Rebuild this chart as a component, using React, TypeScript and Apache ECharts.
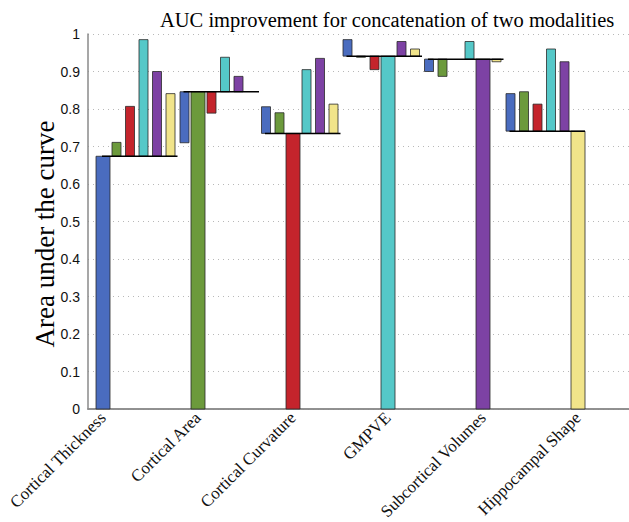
import React, { useEffect, useRef } from "react";
import * as echarts from "echarts";

// Modalities (categories, also the partner modality of each coloured bar)
const categories = [
  "Cortical Thickness",
  "Cortical Area",
  "Cortical Curvature",
  "GMPVE",
  "Subcortical Volumes",
  "Hippocampal Shape",
];

// AUC of the concatenation of row modality with each partner modality (diagonal = single modality)
const corticalThicknessAUC = [0.674, 0.711, 0.807, 0.985, 0.9, 0.841];
const corticalAreaAUC = [0.71, 0.846, 0.789, 0.938, 0.887, 0.846];
const corticalCurvatureAUC = [0.806, 0.79, 0.735, 0.905, 0.935, 0.813];
const gmpveAUC = [0.985, 0.938, 0.905, 0.941, 0.98, 0.96];
const subcorticalVolumesAUC = [0.9, 0.887, 0.933, 0.98, 0.933, 0.926];
const hippocampalShapeAUC = [0.841, 0.846, 0.813, 0.96, 0.926, 0.741];

const yTicks = [0, 0.1, 0.2, 0.3, 0.4, 0.5, 0.6, 0.7, 0.8, 0.9, 1];

const colors = ["#4a6cbf", "#6c9a3c", "#c4242c", "#55c8c8", "#7d42a4", "#f1e48a"];

export default function App() {
  const ref = useRef<HTMLDivElement>(null);

  useEffect(() => {
    document.body.style.margin = "0";
    if (!ref.current) return;
    const chart = echarts.init(ref.current, undefined, { renderer: "svg" });

    const rows = [
      corticalThicknessAUC,
      corticalAreaAUC,
      corticalCurvatureAUC,
      gmpveAUC,
      subcorticalVolumesAUC,
      hippocampalShapeAUC,
    ];
    const baselines = rows.map((r, g) => r[g]);
    const slotStep = 13.5 / 95; // in axis units
    const slotPos = (g: number, s: number) => g + 1 + (s - g) * slotStep;

    const barSeries = colors.map((color, s) => ({
      type: "custom",
      name: categories[s],
      xAxisIndex: 0,
      yAxisIndex: 0,
      z: 3,
      encode: { x: 0, y: [1, 2] },
      data: rows.map((r, g) => [slotPos(g, s), baselines[g], r[s], g === s ? 1 : 0]),
      renderItem: (params: any, api: any) => {
        const u = api.value(0);
        const base = api.value(1);
        const v = api.value(2);
        const self = api.value(3) === 1;
        if (!self && Math.abs(v - base) < 1e-6) return null;
        const w = self ? 14 : 9;
        const p0 = api.coord([u, self ? 0 : base]);
        const p1 = api.coord([u, v]);
        const top = Math.min(p0[1], p1[1]);
        const h = Math.abs(p0[1] - p1[1]);
        return {
          type: "rect",
          shape: { x: p0[0] - w / 2, y: top, width: w, height: h },
          style: { fill: color, stroke: "#2a2a2a", lineWidth: 0.8 },
        };
      },
    }));

    const lineSeries = {
      type: "custom",
      name: "baseline",
      z: 4,
      encode: { x: 0, y: 2 },
      data: baselines.map((b, g) => [slotPos(g, 0), slotPos(g, 5), b]),
      renderItem: (params: any, api: any) => {
        const a = api.coord([api.value(0), api.value(2)]);
        const c = api.coord([api.value(1), api.value(2)]);
        return {
          type: "line",
          shape: { x1: a[0] - 1, y1: a[1], x2: c[0] + 7, y2: c[1] },
          style: { stroke: "#000", lineWidth: 1.5 },
        };
      },
    };

    chart.setOption({
      animation: false,
      backgroundColor: "#fff",
      title: {
        text: "AUC improvement for concatenation of two modalities",
        left: 155,
        top: 4,
        textStyle: {
          fontFamily: "Liberation Serif",
          fontSize: 20.5,
          fontWeight: "normal",
          color: "#000",
        },
      },
      graphic: [
        {
          type: "text",
          x: 45,
          y: 234,
          rotation: Math.PI / 2,
          style: {
            text: "Area under the curve",
            align: "center",
            verticalAlign: "middle",
            fontFamily: "Liberation Serif",
            fontSize: 27,
            fill: "#000",
          },
        },
      ],
      grid: { left: 88, right: 0, top: 34, bottom: 113, outerBoundsMode: "none", containLabel: false },
      xAxis: [
        {
          type: "value",
          min: 1 - 15 / 95,
          max: 1 + 526 / 95,
          splitLine: { show: false },
          axisLine: { show: true, onZero: false, lineStyle: { color: "#8a8a8a", width: 1.5 } },
          axisTick: { show: false },
          axisLabel: {
            customValues: [1, 2, 3, 4, 5, 6],
            formatter: (v: number) => categories[Math.round(v) - 1] ?? "",
            rotate: 45,
            margin: 6,
            fontFamily: "Liberation Serif",
            fontSize: 17,
            color: "#111",
          },
        },
        {
          type: "value",
          position: "top",
          min: 0,
          max: 1,
          splitLine: { show: false },
          axisLine: { show: true, lineStyle: { color: "#8a8a8a", width: 1.5 } },
          axisTick: { show: false },
          axisLabel: { show: false },
        },
      ],
      yAxis: {
        type: "value",
        min: 0,
        max: 1,
        interval: 0.1,
        axisLine: { show: true, lineStyle: { color: "#8a8a8a", width: 1.5 } },
        axisTick: { show: false },
        splitLine: {
          show: true,
          lineStyle: { color: "#b8b8b8", type: [1, 4], width: 1 },
        },
        axisLabel: {
          customValues: yTicks,
          formatter: (v: number) => (v === 0 ? "0" : v === 1 ? "1" : v.toFixed(1)),
          fontFamily: "Liberation Sans",
          fontSize: 14,
          color: "#111",
          margin: 8,
        },
      },
      series: [...barSeries, lineSeries],
    });

    return () => chart.dispose();
  }, []);

  return <div ref={ref} style={{ width: 629, height: 522 }} />;
}
